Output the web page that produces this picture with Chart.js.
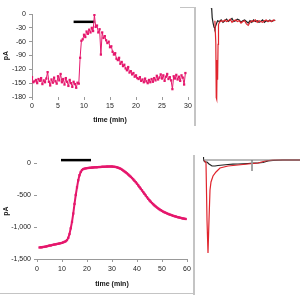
<!DOCTYPE html>
<html>
<head>
<meta charset="utf-8">
<script src="https://cdn.jsdelivr.net/npm/chart.js@4"></script>
<style>
body { margin:0; background:#fff; width:300px; height:300px; position:relative; overflow:hidden; }
canvas { position:absolute; }
.frame { position:absolute; background:#c4c4c4; }
</style>
</head>
<body>
<div class="frame" style="left:180px;top:7px;width:15px;height:1px"></div>
<div class="frame" style="left:194px;top:7px;width:2px;height:119px"></div>
<div class="frame" style="left:193px;top:155px;width:2px;height:140px"></div>
<div class="frame" style="left:0px;top:293px;width:195px;height:1px"></div>
<canvas id="topChart" style="left:0;top:0" width="195" height="130"></canvas>
<canvas id="bottomChart" style="left:0;top:140px" width="194" height="150"></canvas>
<canvas id="topTrace" style="left:200px;top:0" width="100" height="130"></canvas>
<canvas id="bottomTrace" style="left:200px;top:140px" width="100" height="160"></canvas>
<script>
// top panel: current (pA) vs time (min), every 15 s
const topTime = [0,0.25,0.5,0.75,1,1.25,1.5,1.75,2,2.25,2.5,2.75,3,3.25,3.5,3.75,4,4.25,4.5,4.75,5,5.25,5.5,5.75,6,6.25,6.5,6.75,7,7.25,7.5,7.75,8,8.25,8.5,8.75,9,
9.25,9.5,9.75,10,10.25,10.5,10.75,11,11.25,11.5,11.75,12,12.25,12.5,12.75,13,13.25,13.5,13.75,14,14.25,14.5,14.75,15,15.25,15.5,15.75,16,16.25,16.5,16.75,17,17.25,17.5,17.75,18,18.25,18.5,18.75,19,19.25,19.5,19.75,20,
20.25,20.5,20.75,21,21.25,21.5,21.75,22,22.25,22.5,22.75,23,23.25,23.5,23.75,24,24.25,24.5,24.75,25,25.25,25.5,25.75,26,26.25,26.5,26.75,27,27.25,27.5,27.75,28,28.25,28.5,28.75,29,29.25,29.5];
const topCurrent = [-137,-148,-146,-143,-150,-141,-145,-139,-152,-144,-148,-140,-126,-147,-155,-142,-149,-138,-146,-151,-135,-144,-130,-148,-141,-153,-139,-147,-156,-143,-150,-158,-147,-152,-160,-149,-151,
-95,-58,-55,-45,-50,-38,-43,-34,-40,-30,-37,-2,-28,-25,-40,-33,-88,-40,-52,-48,-57,-63,-60,-72,-70,-82,-88,-85,-97,-100,-95,-108,-104,-113,-110,-118,-122,-115,-127,-124,-131,-128,-136,-133,
-139,-141,-137,-145,-142,-148,-140,-146,-150,-143,-148,-141,-147,-139,-144,-134,-142,-138,-131,-140,-133,-145,-136,-130,-141,-137,-144,-163,-135,-140,-132,-142,-136,-145,-133,-138,-153,-128];
const topBarTime = [8, 12];
const topBarLevel = [-17, -17];
const topTicksY = [0, -30, -60, -90, -120, -150, -180];

// bottom panel: current (pA) vs time (min), every 30 s
const bottomTime = [1,1.5,2,2.5,3,3.5,4,4.5,5,5.5,6,6.5,7,7.5,8,8.5,9,9.5,10,10.5,11,11.5,12,12.5,13,13.5,14,14.5,15,15.5,16,16.5,17,17.5,18,18.5,19,19.5,20,
20.5,21,21.5,22,22.5,23,23.5,24,24.5,25,25.5,26,26.5,27,27.5,28,28.5,29,29.5,30,30.5,31,31.5,32,32.5,33,33.5,34,34.5,35,35.5,36,36.5,37,37.5,38,38.5,39,39.5,40,
40.5,41,41.5,42,42.5,43,43.5,44,44.5,45,45.5,46,46.5,47,47.5,48,48.5,49,49.5,50,50.5,51,51.5,52,52.5,53,53.5,54,54.5,55,55.5,56,56.5,57,57.5,58,58.5,59,59.5];
const bottomCurrent = [-1320,-1318,-1316,-1312,-1310,-1306,-1300,-1296,-1290,-1288,-1282,-1278,-1273,-1270,-1265,-1262,-1257,-1252,-1248,-1240,-1232,-1222,-1205,-1170,-1110,-1020,-920,-790,-640,-500,-380,-270,-190,-140,-110,-95,-88,-84,-80,
-78,-76,-74,-72,-70,-68,-67,-66,-64,-63,-62,-60,-59,-58,-57,-56,-56,-55,-55,-55,-57,-60,-63,-68,-74,-82,-92,-104,-118,-132,-147,-162,-180,-198,-216,-235,-256,-278,-300,-324,
-350,-376,-402,-428,-455,-482,-508,-535,-560,-583,-605,-626,-645,-663,-680,-696,-710,-724,-737,-749,-760,-770,-779,-788,-796,-804,-811,-818,-825,-831,-837,-843,-848,-853,-858,-863,-867,-871,-875];
const bottomBarTime = [9.6, 21.6];
const bottomBarLevel = [45, 45];
const bottomTicksY = [0, -500, -1000, -1500];

// right-hand example traces (arbitrary units)
const traceTopX = [7,7.5,8,9,10,11,12,13,14,16,18,20,22,24,26,28,30,32,34,36,38,40,42,44,46,48,50,52,54,56,58,60,62,64,66,68,70,72,74,76,78];
const traceTopBlack = [16,14,4,-3,-8,-10,-6,-3,0,-1,1,-2,0,2,-1,1,3,-1,0,2,1,-2,0,1,-1,-3,0,-2,1,-1,0,-2,-1,1,-2,0,-1,1,-1,0,1];
const traceTopRedX = [11,12,12.5,13,13.5,14,14.5,15,16,18,20,22,24,26,28,30,32,34,36,38,40,42,44,46,48,50,52,54,56,58,60,62,64,66,68,70,72,74,76,78];
const traceTopRed = [0,-28,-98,-100,-50,-75,-30,-5,-2,0,-1,1,-1,0,2,-2,0,1,-1,0,-3,-1,0,-4,-6,-2,0,-1,1,-2,0,-1,-2,0,1,-1,0,-1,1,0];

const traceBottomX = [0,0.5,1,2,4,6,9,12,15,20,25,30,35,40,45,50,55,60,65,70,80,97];
const traceBottomBlack = [3,0,-1,-2,-2,-4,-6,-6,-5.5,-5,-4.5,-4.2,-4,-3.8,-3.5,-3.2,-3,-2.5,-1,-0.5,0,0];
const traceBottomRedX = [1,3,4,5,6,7,8,10,13,17,25,35,45,55,62,70,97];
const traceBottomRed = [0,-3,-60,-93,-60,-30,-22,-16,-12,-8,-6,-5,-4,-3,-1,0,0];
const traceBaseX = [0, 97];
const traceBaseY = [0, 0];
const traceMarkX = [49, 49];
const traceMarkY = [0, -11];

const pink = '#e5176c';
const axisFont = { family: 'Liberation Sans, Arial, sans-serif', size: 7 };
const titleFont = { family: 'Liberation Sans, Arial, sans-serif', size: 7, weight: 'bold' };

function xy(xs, ys) { return xs.map((x, i) => ({ x: x, y: ys[i] })); }

function panel(id, opt) {
  return new Chart(document.getElementById(id), {
    type: 'line',
    data: {
      datasets: [{
        data: xy(opt.time, opt.current),
        borderColor: pink,
        backgroundColor: pink,
        borderWidth: opt.lineWidth,
        pointStyle: 'rect',
        pointRadius: opt.pointRadius,
        pointBorderWidth: 0,
        tension: 0
      }, {
        data: xy(opt.barTime, opt.barLevel),
        borderColor: '#000',
        borderWidth: 2.5,
        pointRadius: 0,
        clip: false
      }]
    },
    options: {
      responsive: false,
      animation: false,
      layout: { padding: opt.padding },
      plugins: { legend: { display: false }, tooltip: { enabled: false } },
      scales: {
        x: {
          type: 'linear', min: opt.xMin, max: opt.xMax,
          border: { display: opt.xBorder, color: '#999' },
          grid: { drawOnChartArea: false, tickLength: 3, color: '#999' },
          ticks: { stepSize: opt.xStep, font: axisFont, color: '#222', maxRotation: 0, padding: opt.xTickPad },
          title: { display: true, text: 'time (min)', font: titleFont, color: '#111', padding: opt.xTitlePad },
          afterFit: s => { s.height = opt.xHeight; }
        },
        y: {
          type: 'linear', min: opt.yMin, max: opt.yMax,
          afterBuildTicks: s => { s.ticks = opt.yTicks.map(v => ({ value: v })); },
          border: { display: opt.yBorder, color: '#999' },
          grid: { drawOnChartArea: false, tickLength: 3, color: '#999' },
          ticks: { font: axisFont, color: '#222', padding: 3 },
          title: { display: true, text: 'pA', font: titleFont, color: '#111', padding: 2 },
          afterFit: s => { s.width = opt.yWidth; }
        }
      }
    }
  });
}

panel('topChart', {
  time: topTime, current: topCurrent, barTime: topBarTime, barLevel: topBarLevel,
  yTicks: topTicksY, yMin: -180, yMax: 0, xMin: 0, xMax: 30, xStep: 5,
  padding: { top: 14, right: 7 }, yWidth: 32, xHeight: 33,
  xBorder: false, yBorder: true, xTickPad: 2, xTitlePad: { top: 2, bottom: 6 },
  lineWidth: 1, pointRadius: 1.6
});

panel('bottomChart', {
  time: bottomTime, current: bottomCurrent, barTime: bottomBarTime, barLevel: bottomBarLevel,
  yTicks: bottomTicksY, yMin: -1500, yMax: 0, xMin: 0, xMax: 60, xStep: 10,
  padding: { top: 23, right: 7 }, yWidth: 37, xHeight: 31,
  xBorder: true, yBorder: false, xTickPad: 3, xTitlePad: { top: 2, bottom: 2 },
  lineWidth: 2, pointRadius: 1.6
});

function trace(id, opt) {
  return new Chart(document.getElementById(id), {
    type: 'line',
    data: { datasets: opt.sets.map(s => ({
      data: xy(s.x, s.y), borderColor: s.color, borderWidth: s.width,
      pointRadius: 0, tension: 0
    })) },
    options: {
      responsive: false,
      animation: false,
      layout: { padding: opt.padding },
      plugins: { legend: { display: false }, tooltip: { enabled: false } },
      scales: {
        x: { type: 'linear', min: opt.xMin, max: opt.xMax, display: false },
        y: { type: 'linear', min: opt.yMin, max: opt.yMax, display: false }
      }
    }
  });
}

trace('topTrace', {
  xMin: 0, xMax: 100, yMin: -120, yMax: 20,
  padding: { left: 5, right: 5, top: 5, bottom: 15 },
  sets: [
    { x: traceTopRedX, y: traceTopRed, color: '#e0242c', width: 1.2 },
    { x: traceTopX, y: traceTopBlack, color: '#222', width: 1.2 }
  ]
});

trace('bottomTrace', {
  xMin: 0, xMax: 97, yMin: -100, yMax: 10,
  padding: { left: 3, right: 0, top: 10, bottom: 40 },
  sets: [
    { x: traceBaseX, y: traceBaseY, color: '#777', width: 1 },
    { x: traceMarkX, y: traceMarkY, color: '#999', width: 1 },
    { x: traceBottomRedX, y: traceBottomRed, color: '#e0242c', width: 1.2 },
    { x: traceBottomX, y: traceBottomBlack, color: '#222', width: 1.2 }
  ]
});
</script>
</body>
</html>
